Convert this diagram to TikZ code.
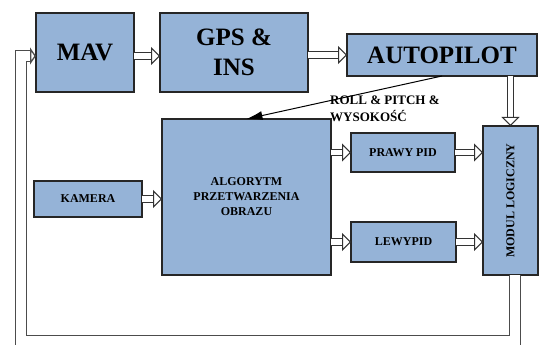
\documentclass[tikz,border=0pt]{standalone}
\usepackage{fontspec}
\setmainfont{Liberation Serif}
\usetikzlibrary{positioning,arrows.meta}
\definecolor{blok}{RGB}{149,179,215}
\tikzset{
  blk/.style={draw=black!85, fill=blok, line width=1.3pt, inner sep=0pt, outer sep=0pt,
    align=center, font=\bfseries\fontsize{12}{17}\selectfont},
  duzy/.style={font=\bfseries\fontsize{25}{30}\selectfont},
  pusta/.style={draw=black!80, double=white, double distance=5.5pt, line width=1pt, -{Triangle[open, length=9pt, width=18pt]}},
  petla/.style={draw=black!70, double=white, double distance=10pt, line width=1.3pt, -{Triangle[open, length=6pt, width=17pt]}}
}
\begin{document}
\begin{tikzpicture}
	\useasboundingbox (0,0) rectangle (539pt,-345pt);
	\node[blk, duzy, minimum width=98pt, minimum height=79pt] (mav) at (85pt,-52.5pt) {MAV};
	\node[blk, duzy, minimum width=148pt, minimum height=79pt, right = 26pt of mav] (gps) {GPS \&\\INS};
	\node[blk, duzy, minimum width=190pt, minimum height=42pt, right = 39pt of gps, yshift=-2.5pt] (auto) {AUTOPILOT};
	\node[blk, minimum width=169pt, minimum height=156pt] (alg) at (246.5pt,-197pt) {\raisebox{8pt}{\begin{tabular}{@{}c@{}}ALGORYTM\\[-2pt]PRZETWARZENIA\\[-2pt]OBRAZU\end{tabular}}};
	\node[blk, minimum width=108pt, minimum height=36pt, left = 20pt of alg, yshift=-2pt] (kam) {KAMERA};
	\node[blk, minimum width=104pt, minimum height=39pt] (prawy) at (403pt,-152.5pt) {PRAWY PID};
	\node[blk, minimum width=105pt, minimum height=40pt] (lewy) at (403.5pt,-242pt) {LEWYPID};
	\node[blk, minimum width=55pt, minimum height=149pt] (modul) at (510.5pt,-200.5pt) {\rotatebox{90}{MODUL LOGICZNY}};
	\node[anchor=north west, align=left, inner sep=0pt, font=\bfseries\fontsize{13}{17}\selectfont] (opis) at (330pt,-96pt) {ROLL \& PITCH \&\\WYSOKOŚĆ};
	% hollow arrows
	\draw[pusta] ([yshift=-3.5pt]mav.east) -- ([yshift=-3.5pt]mav.east -| gps.west);
	\draw[pusta] (gps.east |- auto.west) -- (auto.west);
	\draw[pusta] (modul.north |- auto.south) -- (modul.north);
	\draw[pusta] (kam.east) -- (kam.east -| alg.west);
	\draw[pusta] (alg.east |- prawy.west) -- (prawy.west);
	\draw[pusta] (alg.east |- lewy.west) -- (lewy.west);
	\draw[pusta] (prawy.east) -- (prawy.east -| modul.west);
	\draw[pusta] (lewy.east) -- (lewy.east -| modul.west);
	\draw[line width=1pt, -{Latex[length=16pt,width=9pt]}] (auto.south) -- (alg.north);
	% feedback to MAV
	\coordinate (r1) at (515pt,-341pt);
	\coordinate (r2) at (21pt,-341pt);
	\coordinate (r3) at (21pt,-56pt);
	\draw[petla] (modul.south -| r1) -- (r1) -- (r2) -- (r3) -- (r3 -| mav.west);
\end{tikzpicture}
\end{document}
